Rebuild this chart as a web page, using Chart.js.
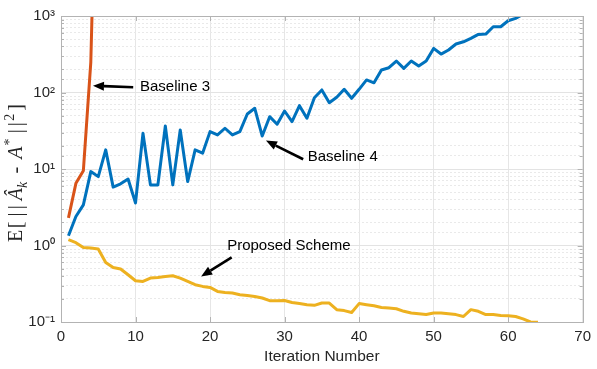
<!DOCTYPE html>
<html><head><meta charset="utf-8">
<script src="https://cdn.jsdelivr.net/npm/chart.js@4/dist/chart.umd.min.js"></script>
<style>html,body{margin:0;padding:0;background:#fff;}#wrap{width:597px;height:369px;position:relative;}</style>
</head><body><div id="wrap"><canvas id="c" width="597" height="369"></canvas></div>
<script>
// ---- data ----
const baseline3 = [2.3, 6.5, 9.5, 250, 1.5e6];
const baseline4 = [1.34, 2.39, 3.4, 9.25, 7.95, 17.8, 5.8, 6.4, 7.4, 3.6,
  29.3, 6.2, 6.2, 36.5, 6.2, 32.4, 6.85, 17.8, 16.1, 30.8,
  27.9, 34.1, 27.9, 30.8, 52.4, 62.2, 27, 48.3, 38.5, 57.3,
  41.6, 67.3, 46, 85.5, 108, 73.6, 86.5, 110, 84, 110,
  146, 134, 197, 211, 258, 207, 258, 222, 258, 377,
  318, 359, 430, 460, 510, 575, 580, 723, 723, 866,
  930, 1055];
const proposed = [1.19, 1.09, 0.94, 0.925, 0.90, 0.60, 0.516, 0.492, 0.415, 0.346,
  0.339, 0.375, 0.382, 0.394, 0.402, 0.375, 0.339, 0.307, 0.292, 0.283,
  0.251, 0.243, 0.239, 0.227, 0.222, 0.216, 0.206, 0.19, 0.19, 0.191,
  0.18, 0.174, 0.168, 0.165, 0.177, 0.177, 0.145, 0.141, 0.133, 0.174,
  0.168, 0.163, 0.155, 0.152, 0.149, 0.138, 0.131, 0.128, 0.125, 0.131,
  0.131, 0.128, 0.125, 0.118, 0.145, 0.138, 0.125, 0.125, 0.122, 0.121,
  0.118, 0.11, 0.1, 0.099];
const xTickValues = [0, 10, 20, 30, 40, 50, 60, 70];
const yTickValues = [0.1, 1, 10, 100, 1000];
const yTickLabels = ['10\u207B\u00B9', '10\u2070', '10\u00B9', '10\u00B2', '10\u00B3'];
const seriesNames = ['Baseline 3', 'Baseline 4', 'Proposed Scheme'];
const xTitle = 'Iteration Number';
// y title pieces: [text, italic, relative size, baseline shift (em, up positive), spacing weight after]
const yTitleParts = [['E', false, 1, 0, 0.3], ['[', false, 1, 0, 1], ['|', false, 1, 0, 0.6], ['|', false, 1, 0, 1],
  ['\u00C2', true, 1, 0, 0], ['k', true, 0.7, -0.25, 1.6], ['-', false, 1, 0, 1.6], ['A', true, 1, 0, 0.2],
  ['*', false, 0.7, 0.42, 1], ['|', false, 1, 0, 0.6], ['|', false, 1, 0, 0.3], ['2', false, 0.7, 0.42, 0.6], [']', false, 1, 0, 0]];
// annotation anchors in data coordinates
const noteText = ['Baseline 3', 'Baseline 4', 'Proposed Scheme'];
const noteTextPos = [[10.6, 117], [33.1, 14.4], [22.3, 0.98]];
const noteTail = [[9.69, 117], [32.5, 13.4], [22.9, 0.70]];
const noteHead = [[4.29, 122.7], [27.5, 23.5], [18.8, 0.394]];

const toXY = arr => arr.map((v, i) => ({x: i + 1, y: v}));
const isDecade = v => Math.abs(Math.log10(v) - Math.round(Math.log10(v))) < 1e-6;

const framePlugin = {
  id: 'frameAndNotes',
  afterDatasetsDraw(chart) {
    const {ctx, chartArea: a, scales} = chart;
    ctx.save();
    // inner tick marks (MATLAB style)
    ctx.strokeStyle = '#b3b3b3';
    ctx.lineWidth = 1;
    ctx.beginPath();
    scales.y.ticks.forEach(t => {
      const y = Math.round(scales.y.getPixelForValue(t.value)) + 0.5;
      const len = isDecade(t.value) ? 5 : 3;
      ctx.moveTo(a.left, y); ctx.lineTo(a.left + len, y);
      ctx.moveTo(a.right, y); ctx.lineTo(a.right - len, y);
    });
    xTickValues.forEach(v => {
      const x = Math.round(scales.x.getPixelForValue(v)) + 0.5;
      ctx.moveTo(x, a.bottom); ctx.lineTo(x, a.bottom - 5);
      ctx.moveTo(x, a.top); ctx.lineTo(x, a.top + 5);
    });
    ctx.stroke();
    ctx.strokeRect(Math.round(a.left) + 0.5, Math.round(a.top) + 0.5, Math.round(a.right - a.left), Math.round(a.bottom - a.top));
    // annotations
    ctx.fillStyle = '#000';
    ctx.strokeStyle = '#000';
    ctx.font = '15px "Liberation Sans", Arial, sans-serif';
    ctx.textBaseline = 'middle';
    ctx.textAlign = 'left';
    for (let i = 0; i < noteText.length; i++) {
      const tx = scales.x.getPixelForValue(noteTextPos[i][0]);
      const ty = scales.y.getPixelForValue(noteTextPos[i][1]);
      ctx.fillText(noteText[i], tx, ty);
      const x1 = scales.x.getPixelForValue(noteTail[i][0]);
      const y1 = scales.y.getPixelForValue(noteTail[i][1]);
      const x2 = scales.x.getPixelForValue(noteHead[i][0]);
      const y2 = scales.y.getPixelForValue(noteHead[i][1]);
      const ang = Math.atan2(y2 - y1, x2 - x1);
      const hl = 11, hw = 4.5;
      const bx = x2 - hl * Math.cos(ang), by = y2 - hl * Math.sin(ang);
      ctx.lineWidth = 2.6;
      ctx.beginPath(); ctx.moveTo(x1, y1); ctx.lineTo(bx, by); ctx.stroke();
      ctx.beginPath();
      ctx.moveTo(x2, y2);
      ctx.lineTo(bx + hw * Math.sin(ang), by - hw * Math.cos(ang));
      ctx.lineTo(bx - hw * Math.sin(ang), by + hw * Math.cos(ang));
      ctx.closePath(); ctx.fill();
    }
    // y-axis title (rich text, rotated)
    const base = 20, target = 138;
    const fam = '"Liberation Serif", "DejaVu Serif", serif';
    const fontOf = p => (p[1] ? 'italic ' : '') + (base * p[2]) + 'px ' + fam;
    let natural = 0, wsum = 0;
    const widths = yTitleParts.map((p, i) => {
      ctx.font = fontOf(p); const w = ctx.measureText(p[0]).width; natural += w;
      if (i < yTitleParts.length - 1) wsum += p[4];
      return w;
    });
    const unit = Math.max(0, (target - natural) / wsum);
    const total = natural + unit * wsum;
    ctx.translate(16, (a.top + a.bottom) / 2 + 4);
    ctx.rotate(-Math.PI / 2);
    ctx.fillStyle = '#262626';
    ctx.textBaseline = 'alphabetic';
    let cx = -total / 2;
    yTitleParts.forEach((p, i) => {
      ctx.font = fontOf(p);
      ctx.fillText(p[0], cx, 6 - p[3] * base);
      cx += widths[i] + unit * p[4];
    });
    ctx.restore();
  }
};

Chart.defaults.font.family = '"Liberation Sans", Arial, sans-serif';
Chart.defaults.color = '#262626';

new Chart(document.getElementById('c'), {
  type: 'line',
  data: {
    datasets: [
      {label: seriesNames[0], data: toXY(baseline3), borderColor: '#D95319', borderWidth: 3},
      {label: seriesNames[1], data: toXY(baseline4), borderColor: '#0072BD', borderWidth: 3},
      {label: seriesNames[2], data: toXY(proposed), borderColor: '#EDB120', borderWidth: 3}
    ]
  },
  options: {
    responsive: false,
    animation: false,
    devicePixelRatio: 1,
    layout: {padding: {left: 0, top: 16, right: 9, bottom: 0}},
    elements: {
      point: {radius: 0, hoverRadius: 0},
      line: {tension: 0, borderJoinStyle: 'round', fill: false}
    },
    plugins: {legend: {display: false}, tooltip: {enabled: false}},
    scales: {
      x: {
        type: 'linear', min: 0, max: 70,
        afterFit: s => { s.height = 47; },
        afterBuildTicks: s => { s.ticks = xTickValues.map(v => ({value: v})); },
        ticks: {font: {size: 15}, color: '#262626', padding: 6, maxRotation: 0},
        grid: {color: '#e6e6e6', lineWidth: 1, drawTicks: false},
        border: {color: '#b3b3b3'},
        title: {display: true, text: xTitle, font: {size: 15.5}, color: '#262626', padding: {top: 4, bottom: 3}}
      },
      y: {
        type: 'logarithmic', min: 0.1, max: 1000,
        afterFit: s => { s.width = 61; },
        ticks: {
          autoSkip: false, font: {size: 15}, color: '#262626', padding: 6,
          callback: function(v) {
            if (!isDecade(v)) return '';
            const idx = yTickValues.findIndex(t => Math.abs(Math.log10(t) - Math.log10(v)) < 1e-6);
            return idx >= 0 ? yTickLabels[idx] : '';
          }
        },
        grid: {
          drawTicks: false, lineWidth: 1,
          color: ctx => (ctx.tick && isDecade(ctx.tick.value)) ? '#e3e3e3' : '#e9e9e9'
        },
        border: {
          color: '#b3b3b3',
          dash: ctx => (ctx.tick && isDecade(ctx.tick.value)) ? [] : [2, 2]
        },
        title: {display: false}
      }
    }
  },
  plugins: [framePlugin]
});
</script></body></html>
